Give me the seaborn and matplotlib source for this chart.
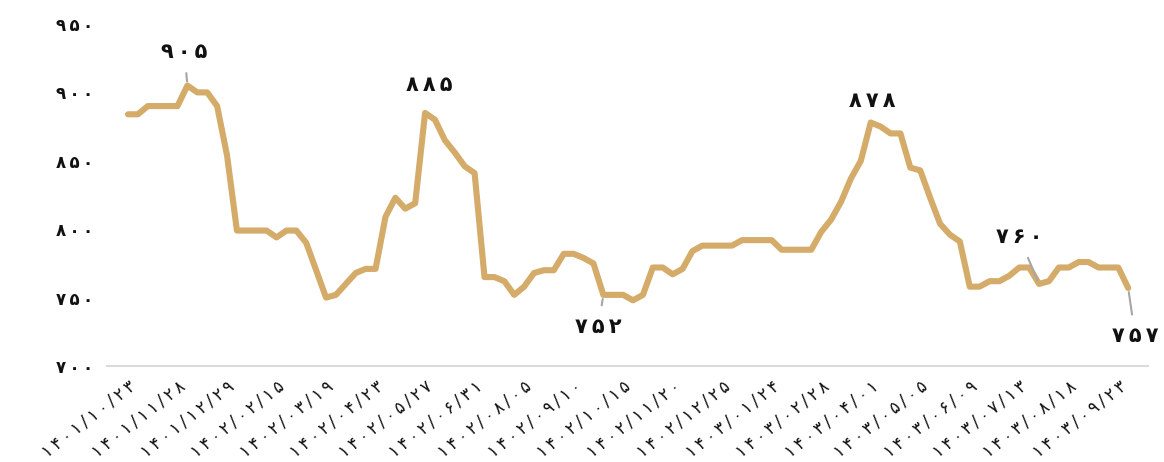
import pandas as pd
import seaborn as sns
import matplotlib.pyplot as plt

# Persian digits
FA = str.maketrans("0123456789", "۰۱۲۳۴۵۶۷۸۹")


def fa(s, gap="\u2009"):
    # Persian digits, a thin space between characters like the source font
    return gap.join(str(s).translate(FA))


# weekly price
prices = [
    884, 884, 890, 890, 890, 890, 905, 900, 900, 890,
    854, 799, 799, 799, 799, 794, 799, 799, 790, 770,
    750, 752, 760, 768, 771, 771, 809, 823, 815, 819,
    885, 880, 865, 856, 846, 841, 765, 765, 762, 752,
    758, 768, 770, 770, 782, 782, 779, 775, 752, 752,
    752, 748, 752, 772, 772, 767, 771, 784, 788, 788,
    788, 788, 792, 792, 792, 792, 785, 785, 785, 785,
    798, 807, 820, 837, 850, 878, 875, 870, 870, 845,
    843, 823, 804, 796, 791, 758, 758, 762, 762, 766,
    772, 772, 760, 762, 772, 772, 776, 776, 772, 772,
    772, 757,
]

# every 5th week is labelled
tick_dates = [
    "1401/10/23", "1401/11/28", "1401/12/29", "1402/02/15", "1402/03/19",
    "1402/04/23", "1402/05/27", "1402/06/31", "1402/08/05", "1402/09/10",
    "1402/10/15", "1402/11/20", "1402/12/25", "1403/01/24", "1403/02/28",
    "1403/04/01", "1403/05/05", "1403/06/09", "1403/07/13", "1403/08/18",
    "1403/09/23",
]
tick_step = 5
y_ticks = [700, 750, 800, 850, 900, 950]

# labelled points (index in series)
labelled = [6, 30, 48, 75, 92, 101]

df = pd.DataFrame({"week": range(len(prices)), "price": prices})

sns.set_style("white")
plt.rcParams["font.family"] = ["DejaVu Sans"]

fig = plt.figure(figsize=(11.64, 4.62), dpi=100)
ax = fig.add_axes([107 / 1164, 96 / 462, 1041 / 1164, 342 / 462])

sns.lineplot(data=df, x="week", y="price", ax=ax, color="#D4AB69",
             linewidth=4.4, solid_capstyle="round", solid_joinstyle="round")

ax.set_xlim(-2.12, 103.0)
ax.set_ylim(700, 950)

for s in ["top", "right", "left"]:
    ax.spines[s].set_visible(False)
ax.spines["bottom"].set_color("#D9D9D9")
ax.spines["bottom"].set_linewidth(1.4)

ax.set_yticks(y_ticks)
ax.set_yticklabels([fa(v) for v in y_ticks], fontsize=12, fontweight="bold",
                   color="#111111")
ax.set_xticks(range(0, len(prices), tick_step))
ax.set_xticklabels([fa(d) for d in tick_dates], fontsize=12, color="#111111",
                   rotation=38, ha="right", va="top", rotation_mode="anchor")
ax.tick_params(axis="both", length=0)
ax.tick_params(axis="y", pad=10)
ax.tick_params(axis="x", pad=8)
ax.set_xlabel("")
ax.set_ylabel("")

# label offsets in pixels (text centre relative to the point)
offsets = {6: (-3, 34), 30: (4, 28), 48: (-5, -32), 75: (2, 21), 92: (-20, 47), 101: (7, -48)}
leaders = {6: True, 30: False, 48: True, 75: False, 92: True, 101: True}

for i in labelled:
    arrow = dict(arrowstyle="-", color="#A6A6A6", lw=1.5, shrinkA=6, shrinkB=3) if leaders[i] else None
    ax.annotate(fa(prices[i]), xy=(i, prices[i]), xytext=offsets[i],
                textcoords="offset pixels", ha="center", va="center",
                fontsize=15, fontweight="bold", color="#111111",
                arrowprops=arrow, annotation_clip=False)

plt.savefig("out.png", dpi=100)
